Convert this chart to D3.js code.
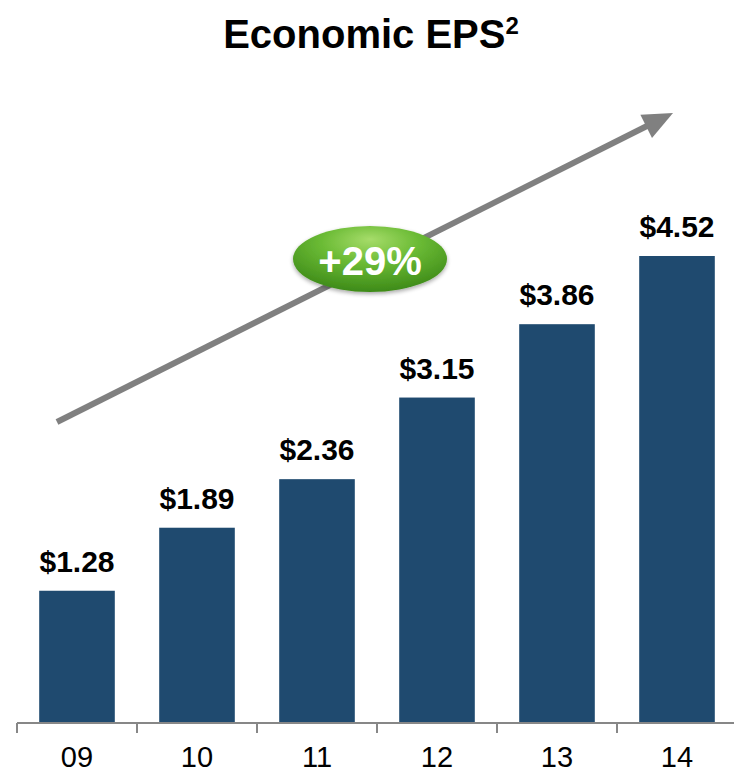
<!DOCTYPE html>
<html>
<head>
<meta charset="utf-8">
<script src="https://cdn.jsdelivr.net/npm/d3@7/dist/d3.min.js"></script>
<style>
  html, body { margin: 0; padding: 0; background: #fff; }
  svg { display: block; font-family: Arial, "Liberation Sans", sans-serif; }
</style>
</head>
<body>
<svg id="chart" width="734" height="774"></svg>
<script>
// Economic EPS by year
const years = ["09", "10", "11", "12", "13", "14"];
const eps = [1.28, 1.89, 2.36, 3.15, 3.86, 4.52];
const valueLabels = ["$1.28", "$1.89", "$2.36", "$3.15", "$3.86", "$4.52"];
const growthLabel = "+29%";

const svg = d3.select("#chart");
const W = 734, H = 774;

const x = d3.scaleBand()
  .domain(years)
  .range([17, 737])
  .paddingInner(0.37)
  .paddingOuter(0.185);

const y = d3.scaleLinear()
  .domain([0, 4.52])
  .range([723, 256]);

// Title with superscript footnote marker
const title = svg.append("text")
  .attr("x", 371)
  .attr("y", 48)
  .attr("text-anchor", "middle")
  .attr("font-size", 40)
  .attr("font-weight", "bold")
  .attr("fill", "#000");
title.append("tspan").text("Economic EPS");
title.append("tspan")
  .attr("font-size", 24)
  .attr("dy", -14)
  .text("2");

// Bars
svg.append("g")
  .selectAll("rect")
  .data(eps)
  .join("rect")
  .attr("x", (d, i) => x(years[i]))
  .attr("y", d => y(d))
  .attr("width", x.bandwidth())
  .attr("height", d => y(0) - y(d))
  .attr("fill", "#1f4a6f");

// Value labels above bars
svg.append("g")
  .selectAll("text")
  .data(eps)
  .join("text")
  .attr("x", (d, i) => x(years[i]) + x.bandwidth() / 2)
  .attr("y", d => y(d) - 19)
  .attr("text-anchor", "middle")
  .attr("font-size", 30)
  .attr("font-weight", "bold")
  .attr("fill", "#000")
  .text((d, i) => valueLabels[i]);

// Category axis: baseline with tick marks between categories
const axisG = svg.append("g");
const step = x.step();
axisG.append("line")
  .attr("x1", 17).attr("x2", W)
  .attr("y1", y(0)).attr("y2", y(0))
  .attr("stroke", "#878787").attr("stroke-width", 2);
const tickXs = d3.range(years.length).map(i => 17 + i * step);
axisG.selectAll(".tick")
  .data(tickXs)
  .join("line")
  .attr("x1", d => d).attr("x2", d => d)
  .attr("y1", y(0)).attr("y2", y(0) + 10)
  .attr("stroke", "#878787").attr("stroke-width", 2);
axisG.selectAll("text")
  .data(years)
  .join("text")
  .attr("x", d => x(d) + x.bandwidth() / 2)
  .attr("y", 767)
  .attr("text-anchor", "middle")
  .attr("font-size", 29)
  .attr("fill", "#000")
  .text(d => d);

// Growth trend arrow
const start = [57, 422], tip = [673, 113];
const dx = tip[0] - start[0], dy = tip[1] - start[1];
const len = Math.hypot(dx, dy);
const ux = dx / len, uy = dy / len;
const nx = -uy, ny = ux;
const headLen = 30, headHalf = 13;
const base = [tip[0] - headLen * ux, tip[1] - headLen * uy];
svg.append("line")
  .attr("x1", start[0]).attr("y1", start[1])
  .attr("x2", base[0] + 2 * ux).attr("y2", base[1] + 2 * uy)
  .attr("stroke", "#808080").attr("stroke-width", 6);
svg.append("path")
  .attr("d", d3.line()([
    tip,
    [base[0] + headHalf * nx, base[1] + headHalf * ny],
    [base[0] - headHalf * nx, base[1] - headHalf * ny]
  ]) + "Z")
  .attr("fill", "#808080");

// Growth badge
const defs = svg.append("defs");
const grad = defs.append("radialGradient")
  .attr("id", "badgeFill")
  .attr("cx", "50%").attr("cy", "30%").attr("r", "70%")
  .attr("fx", "50%").attr("fy", "20%");
grad.append("stop").attr("offset", "0%").attr("stop-color", "#a6dc6a");
grad.append("stop").attr("offset", "45%").attr("stop-color", "#6bbb35");
grad.append("stop").attr("offset", "100%").attr("stop-color", "#3d8a18");
const shadow = defs.append("filter").attr("id", "badgeShadow")
  .attr("x", "-20%").attr("y", "-20%").attr("width", "140%").attr("height", "150%");
shadow.append("feGaussianBlur").attr("in", "SourceAlpha").attr("stdDeviation", 2).attr("result", "b");
shadow.append("feOffset").attr("in", "b").attr("dy", 2).attr("result", "o");
shadow.append("feComponentTransfer").attr("in", "o").attr("result", "s")
  .append("feFuncA").attr("type", "linear").attr("slope", 0.35);
const merge = shadow.append("feMerge");
merge.append("feMergeNode").attr("in", "s");
merge.append("feMergeNode").attr("in", "SourceGraphic");

svg.append("ellipse")
  .attr("cx", 370).attr("cy", 259)
  .attr("rx", 77).attr("ry", 33)
  .attr("fill", "url(#badgeFill)")
  .attr("filter", "url(#badgeShadow)");
svg.append("text")
  .attr("x", 370).attr("y", 275)
  .attr("text-anchor", "middle")
  .attr("font-size", 40)
  .attr("font-weight", "bold")
  .attr("fill", "#fff")
  .text(growthLabel);
</script>
</body>
</html>
